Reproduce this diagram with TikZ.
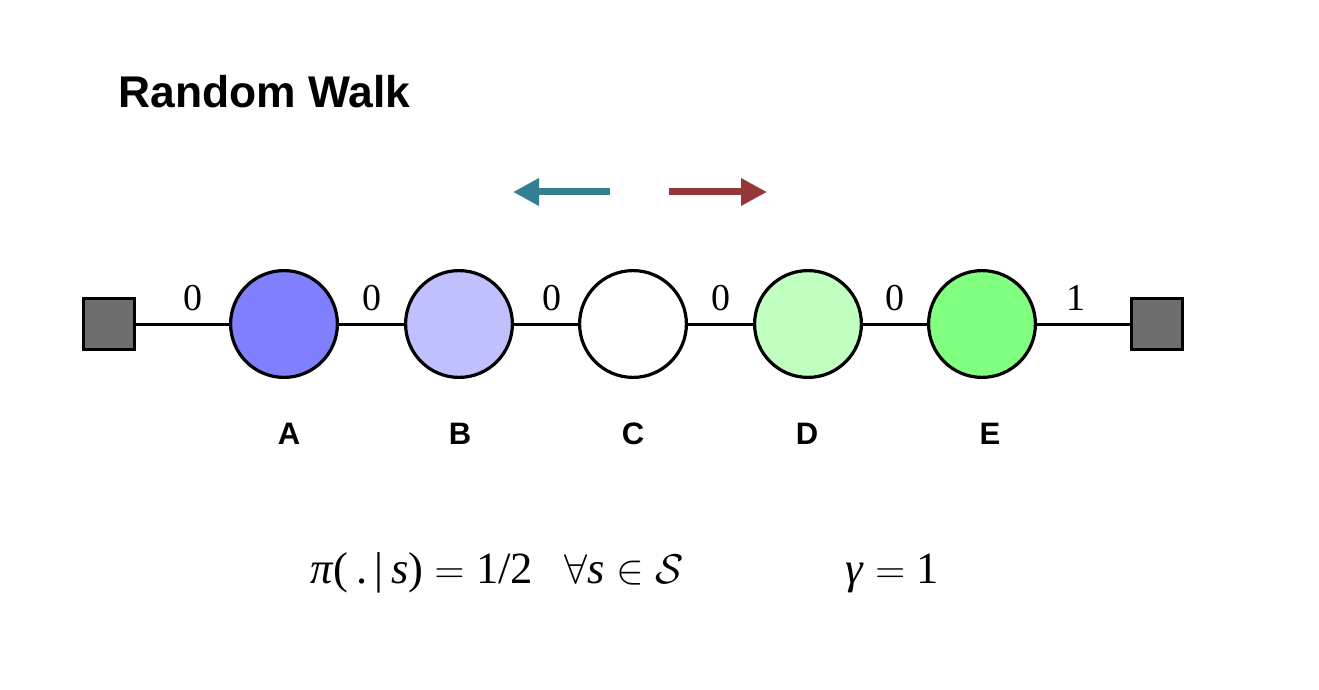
\documentclass[tikz,border=0pt]{standalone}
\usepackage{fontspec}
\setmainfont{Liberation Serif}
\setsansfont{Liberation Sans}
\usetikzlibrary{arrows.meta}
\definecolor{termgray}{RGB}{110,110,110}
\definecolor{sA}{RGB}{128,128,255}
\definecolor{sB}{RGB}{192,192,255}
\definecolor{sD}{RGB}{192,255,192}
\definecolor{sE}{RGB}{128,255,128}
\definecolor{leftteal}{RGB}{52,126,148}
\definecolor{rightred}{RGB}{150,55,55}
\begin{document}
\begin{tikzpicture}[x=0.5pt,y=-0.5pt,
  state/.style={circle,draw=black,line width=1.6pt,minimum size=53.4pt,inner sep=0pt},
  term/.style={rectangle,draw=black,line width=1.6pt,fill=termgray,minimum size=25.4pt,inner sep=0pt},
  edge/.style={line width=1.5pt,draw=black},
  rew/.style={inner sep=0pt,above=6pt,font=\fontsize{19}{19}\selectfont},
  slabel/.style={font=\sffamily\bfseries\fontsize{15.5}{15.5}\selectfont},
  formula/.style={anchor=base west,inner sep=0pt,font=\fontsize{22.3}{22.3}\selectfont},
  dirarrow/.style={line width=3.5pt,-{Triangle[length=13pt,width=13pt]}}]
\useasboundingbox (0,0) rectangle (1319,690);
\node[anchor=base west,inner sep=0pt,font=\sffamily\bfseries\fontsize{22.2}{22.2}\selectfont] (title) at (118,108) {Random Walk};
% direction arrows
\coordinate (lstart) at (610,192);
\coordinate (lend) at (513,192);
\coordinate (rstart) at (669,192);
\coordinate (rend) at (767,192);
\draw[dirarrow,leftteal] (lstart) -- (lend);
\draw[dirarrow,rightred] (rstart) -- (rend);
% states
\node[term] (T0) at (109,324) {};
\node[state,fill=sA] (A) at (284,324) {};
\node[state,fill=sB] (B) at (459,324) {};
\node[state,fill=white] (C) at (633,324) {};
\node[state,fill=sD] (D) at (808,324) {};
\node[state,fill=sE] (E) at (982,324) {};
\node[term] (T1) at (1157,324) {};
\draw[edge] (T0) -- node[rew,pos=0.61] {0} (A);
\draw[edge] (A) -- node[rew] {0} (B);
\draw[edge] (B) -- node[rew,pos=0.6] {0} (C);
\draw[edge] (C) -- node[rew] {0} (D);
\draw[edge] (D) -- node[rew] {0} (E);
\draw[edge] (E) -- node[rew,pos=0.42] {1} (T1);
% labels
\node[slabel] (lA) at (289,434) {A};
\node[slabel] (lB) at (460,434) {B};
\node[slabel] (lC) at (633,434) {C};
\node[slabel] (lD) at (807,434) {D};
\node[slabel] (lE) at (990,434) {E};
% formula
\node[formula] (policy) at (310,583) {\textit{π}(\,.\,|\,\textit{s})${}={}$1/2\hspace{0.7em}$\forall$\textit{s}${}\in{}$$\mathcal{S}$};
\node[formula] (gamma) at (845,583) {\textit{γ}${}={}$1};
\end{tikzpicture}
\end{document}
